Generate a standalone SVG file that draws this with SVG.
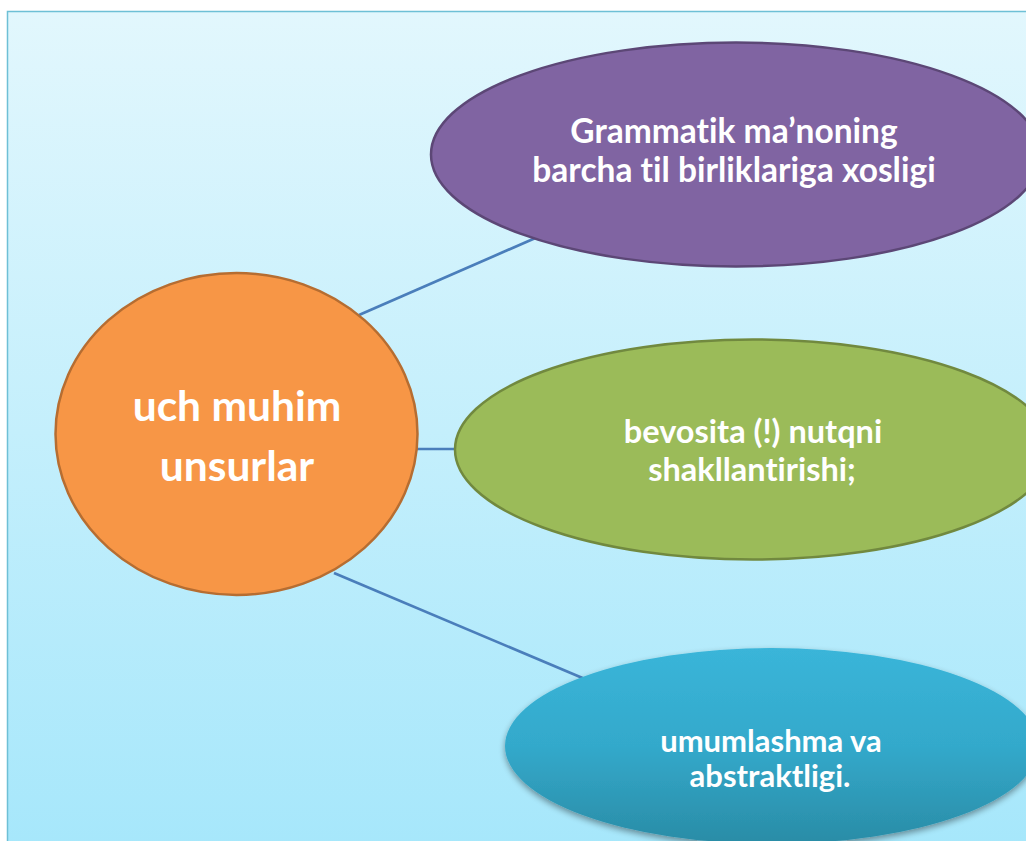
<svg xmlns="http://www.w3.org/2000/svg" width="1026" height="841" viewBox="0 0 1026 841">
<defs>
<linearGradient id="bg" x1="0" y1="0" x2="0" y2="1">
<stop offset="0" stop-color="#e2f7fd"/>
<stop offset="1" stop-color="#a6e7fb"/>
</linearGradient>
<linearGradient id="blueFill" x1="0" y1="0" x2="0" y2="1">
<stop offset="0" stop-color="#3ab5d9"/>
<stop offset="0.5" stop-color="#33a9cb"/>
<stop offset="1" stop-color="#2a8ca6"/>
</linearGradient>
<filter id="shadow" x="-10%" y="-10%" width="120%" height="130%">
<feGaussianBlur in="SourceAlpha" stdDeviation="3"/>
<feOffset dx="0" dy="3" result="b"/>
<feComponentTransfer><feFuncA type="linear" slope="0.4"/></feComponentTransfer>
<feMerge><feMergeNode/><feMergeNode in="SourceGraphic"/></feMerge>
</filter>
</defs>
<style>
.lbl{font-family:Lato,"Open Sans","Liberation Sans",sans-serif;font-weight:bold;fill:#ffffff;text-anchor:middle;font-variant-ligatures:none;font-feature-settings:"liga" 0}
.conn{stroke:#4a7ebb;stroke-width:2.7;fill:none}
</style>
<rect x="0" y="0" width="1026" height="841" fill="#ffffff"/>
<rect id="frame" x="7.5" y="11.5" width="1030" height="840" fill="url(#bg)" stroke="#6ec0d6" stroke-width="1.5"/>
<g id="connectors">
<line class="conn" x1="359" y1="315" x2="540" y2="236"/>
<line class="conn" x1="417" y1="449" x2="458" y2="449"/>
<line class="conn" x1="334" y1="573" x2="592" y2="682"/>
</g>
<g id="node-center">
<ellipse cx="236.5" cy="434" rx="181" ry="161" fill="#f79646" stroke="#b66d31" stroke-width="2.5"/>
<text class="lbl" x="237" y="421" font-size="42.5">uch muhim</text>
<text class="lbl" x="237" y="481" font-size="42.5">unsurlar</text>
</g>
<g id="node-grammatik">
<ellipse cx="736" cy="154.5" rx="305" ry="112" fill="#8064a2" stroke="#5c4776" stroke-width="2.5"/>
<text class="lbl" x="734" y="143" font-size="33.5">Grammatik ma’noning</text>
<text class="lbl" x="734" y="182" font-size="33.5">barcha til birliklariga xosligi</text>
</g>
<g id="node-bevosita">
<ellipse cx="753" cy="449.5" rx="298" ry="110" fill="#9bbb59" stroke="#71893f" stroke-width="2.5"/>
<text class="lbl" x="753" y="443" font-size="32.5">bevosita (!) nutqni</text>
<text class="lbl" x="752" y="481" font-size="32.5">shakllantirishi;</text>
</g>
<g id="node-umumlashma">
<ellipse cx="772" cy="746" rx="267" ry="98" fill="url(#blueFill)" filter="url(#shadow)"/>
<text class="lbl" x="771" y="752" font-size="31">umumlashma va</text>
<text class="lbl" x="770" y="787" font-size="31">abstraktligi.</text>
</g>
</svg>
